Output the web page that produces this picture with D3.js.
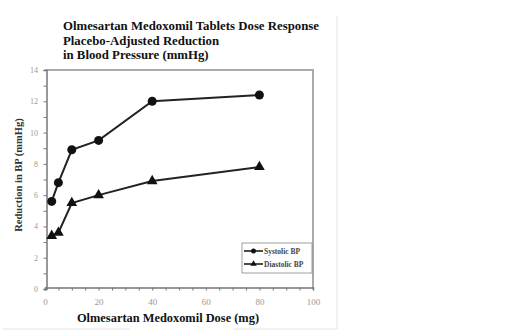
<!DOCTYPE html>
<html><head><meta charset="utf-8">
<script src="https://cdn.jsdelivr.net/npm/d3@7"></script>
<style>body{margin:0;background:#fff}svg{display:block}text{font-family:"Liberation Serif","Times New Roman",serif}</style>
</head><body>
<svg id="c" width="520" height="331"></svg>
<script>
const doses = [2.5, 5, 10, 20, 40, 80];
const systolic = [5.6, 6.8, 8.9, 9.5, 12.0, 12.4];
const diastolic = [3.4, 3.6, 5.5, 6.0, 6.9, 7.8];
const seriesNames = ["Systolic BP", "Diastolic BP"];
const xTicks = [0, 20, 40, 60, 80, 100];
const yTicks = [0, 2, 4, 6, 8, 10, 12, 14];
const titleLines = ["Olmesartan Medoxomil Tablets Dose Response", "Placebo-Adjusted Reduction", "in Blood Pressure (mmHg)"];

const svg = d3.select("#c");
const L = 45, R = 313, T = 70, B = 289;
const x = d3.scaleLinear().domain([0, 100]).range([L, R]);
const y = d3.scaleLinear().domain([0, 14]).range([B, T]);

// faint page borders
svg.append("line").attr("x1", 337).attr("x2", 337).attr("y1", 16).attr("y2", 329).attr("stroke", "#e4e4e4");
svg.append("line").attr("x1", 3).attr("x2", 130).attr("y1", 329).attr("y2", 329).attr("stroke", "#e4e4e4");
svg.append("line").attr("x1", 233).attr("x2", 337).attr("y1", 329).attr("y2", 329).attr("stroke", "#e4e4e4");

// frame top/right
svg.append("path").attr("d", `M${L},${T}H${R}V${B}`).attr("fill", "none").attr("stroke", "#aaa").attr("stroke-width", 2);

// axes
const xAxis = d3.axisBottom(x).tickValues(d3.range(0, 101, 5)).tickSize(3).tickFormat("");
svg.append("g").attr("transform", `translate(0,${B - 1.5})`).call(xAxis)
  .call(g => { g.select(".domain").attr("stroke", "#777").attr("stroke-width", 1.5); g.selectAll(".tick line").attr("stroke", "#777"); });
svg.append("g").attr("transform", `translate(0,${B})`).call(d3.axisBottom(x).tickValues(xTicks).tickSize(0).tickPadding(10))
  .call(g => { g.select(".domain").remove(); g.selectAll("text").attr("fill", "#999").attr("font-size", 9); });

const yAxis = d3.axisLeft(y).tickValues(d3.range(0, 14.01, 1)).tickSize(3).tickFormat("");
svg.append("g").attr("transform", `translate(${L + 1.5},0)`).call(yAxis)
  .call(g => { g.select(".domain").attr("stroke", "#777").attr("stroke-width", 1.5); g.selectAll(".tick line").attr("stroke", "#777"); });
svg.append("g").attr("transform", `translate(${L},0)`).call(d3.axisLeft(y).tickValues(yTicks).tickSize(0).tickPadding(7))
  .call(g => { g.select(".domain").remove(); g.selectAll("text").attr("fill", "#999").attr("font-size", 8); });

// series
const line = d3.line().x(d => x(d[0])).y(d => y(d[1]));
const sData = doses.map((d, i) => [d, systolic[i]]);
const dData = doses.map((d, i) => [d, diastolic[i]]);
[sData, dData].forEach(data => {
  svg.append("path").datum(data).attr("d", line).attr("fill", "none").attr("stroke", "#222").attr("stroke-width", 2);
});
svg.selectAll(".sc").data(sData).enter().append("circle")
  .attr("cx", d => x(d[0])).attr("cy", d => y(d[1])).attr("r", 4.5).attr("fill", "#111");
const tri = d3.symbol().type(d3.symbolTriangle).size(50);
svg.selectAll(".dt").data(dData).enter().append("path")
  .attr("d", tri).attr("transform", d => `translate(${x(d[0])},${y(d[1])})`).attr("fill", "#111");

// legend
const lg = svg.append("g");
lg.append("rect").attr("x", 242).attr("y", 243).attr("width", 70).attr("height", 30).attr("fill", "#fff").attr("stroke", "#888").attr("stroke-width", 0.8);
seriesNames.forEach((n, i) => {
  const yy = 251 + i * 13;
  lg.append("line").attr("x1", 244).attr("x2", 263).attr("y1", yy).attr("y2", yy).attr("stroke", "#111").attr("stroke-width", 1.5);
  if (i === 0) lg.append("circle").attr("cx", 253.5).attr("cy", yy).attr("r", 2.5).attr("fill", "#111");
  else lg.append("path").attr("d", d3.symbol().type(d3.symbolTriangle).size(18)).attr("transform", `translate(253.5,${yy})`).attr("fill", "#111");
  lg.append("text").attr("x", 264).attr("y", yy + 2.5).attr("font-size", 7.5).attr("font-weight", "bold").attr("fill", "#444").text(n);
});

// title
titleLines.forEach((t, i) => {
  svg.append("text").attr("x", 63).attr("y", 30 + i * 14.5).attr("font-size", 12.8).attr("font-weight", "bold").attr("fill", "#111").text(t);
});

// axis labels
svg.append("text").attr("x", 168).attr("y", 322).attr("text-anchor", "middle").attr("font-size", 12.4).attr("font-weight", "bold").attr("fill", "#111").text("Olmesartan Medoxomil Dose (mg)");
svg.append("text").attr("transform", "translate(22,175) rotate(-90)").attr("text-anchor", "middle").attr("font-size", 10.5).attr("font-weight", "bold").attr("fill", "#333").text("Reduction in BP (mmHg)");
</script>
</body></html>
